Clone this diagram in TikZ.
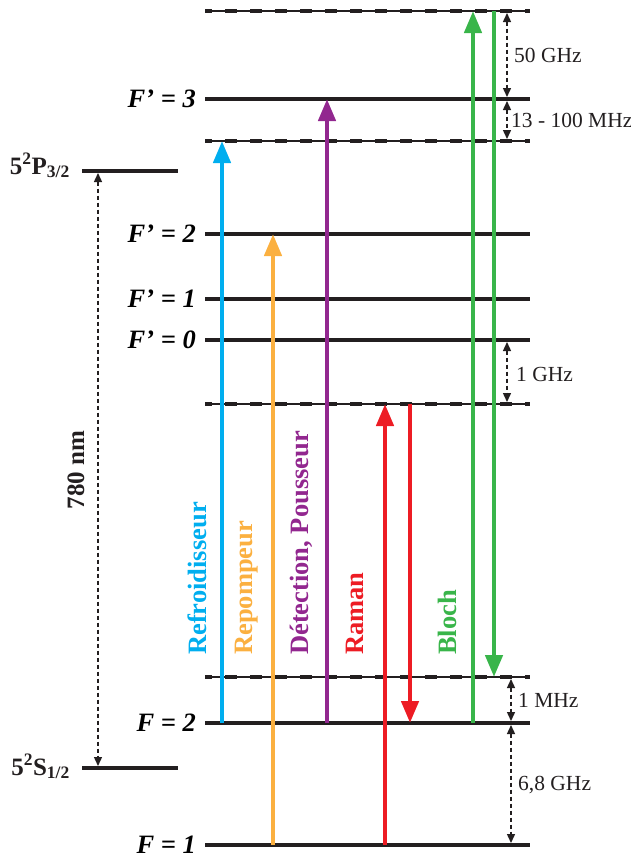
\documentclass[tikz,border=0pt]{standalone}
\usepackage{fontspec}
\setmainfont{Liberation Serif}
\usetikzlibrary{arrows.meta}
\definecolor{cblue}{RGB}{0,174,239}
\definecolor{corange}{RGB}{251,176,64}
\definecolor{cpurple}{RGB}{146,39,143}
\definecolor{cred}{RGB}{237,28,36}
\definecolor{cgreen}{RGB}{57,181,74}
\definecolor{cblack}{RGB}{35,31,32}
\begin{document}
\begin{tikzpicture}[x=1pt,y=-1pt,
  lvl/.style={cblack,line width=3.6pt},
  virtthin/.style={cblack,line width=1.2pt},
  virtdash/.style={cblack,line width=4pt,dash pattern=on 12pt off 13pt,dash phase=5pt},
  trans/.style={line width=4.5pt,-{Triangle[width=17pt,length=22pt]}},
  dim/.style={cblack,line width=1.4pt,dash pattern=on 4pt off 3pt,{Triangle[width=8pt,length=9pt]}-{Triangle[width=8pt,length=9pt]}},
  flab/.style={font=\fontsize{26.5}{26.5}\selectfont\bfseries\itshape,anchor=east,inner sep=0pt},
  dlab/.style={font=\fontsize{21.5}{21.5}\selectfont,anchor=west,inner sep=0pt,cblack},
  tlab/.style={font=\fontsize{26.5}{26.5}\selectfont\bfseries,rotate=90,anchor=west,inner sep=0pt},
  slab/.style={font=\fontsize{25}{25}\selectfont\bfseries,anchor=base east,inner sep=0pt,cblack}]
\useasboundingbox (0,0) rectangle (630,854);

% level endpoints
\foreach \n/\y in {v1/11,e3/99,v2/141,e2/234,e1/299,e0/340,v3/404,v4/677,g2/723,g1/845}{
  \coordinate (\n L) at (205,\y);
  \coordinate (\n R) at (530,\y);
}
\coordinate (PL) at (82,171); \coordinate (PR) at (178,171);
\coordinate (SL) at (82,768); \coordinate (SR) at (178,768);

% solid levels
\foreach \n in {e3,e2,e1,e0,g2,g1}{\draw[lvl] (\n L) -- (\n R);}
\draw[lvl] (PL) -- (PR);
\draw[lvl] (SL) -- (SR);
% virtual levels
\foreach \n in {v1,v2,v3,v4}{
  \draw[virtthin] (\n L) -- (\n R);
  \draw[virtdash] (\n L) -- (\n R);
}

% level labels
\node[flab] (lF3) at (196,99) {F’ = 3};
\node[flab] (lF2) at (196,234) {F’ = 2};
\node[flab] (lF1) at (196,299) {F’ = 1};
\node[flab] (lF0) at (196,340) {F’ = 0};
\node[flab] (lG2) at (196,723) {F = 2};
\node[flab] (lG1) at (196,845) {F = 1};
\node[slab] (lP) at (70,174) {5\textsuperscript{2}P\textsubscript{3/2}};
\node[slab] (lS) at (70,775) {5\textsuperscript{2}S\textsubscript{1/2}};

% transition coordinates
\coordinate (bB) at (222,723); \coordinate (tB) at (222,141);
\coordinate (bO) at (273,845); \coordinate (tO) at (273,234);
\coordinate (bP) at (327,723); \coordinate (tP) at (327,99);
\coordinate (bR1) at (385,845); \coordinate (tR1) at (385,404);
\coordinate (tR2) at (410,404); \coordinate (bR2) at (410,723);
\coordinate (bG1) at (473,723); \coordinate (tG1) at (473,11);
\coordinate (tG2) at (494,11); \coordinate (bG2) at (494,677);

\draw[trans,cblue] (bB) -- (tB);
\draw[trans,corange] (bO) -- (tO);
\draw[trans,cpurple] (bP) -- (tP);
\draw[trans,cred] (bR1) -- (tR1);
\draw[trans,cred] (tR2) -- (bR2);
\draw[trans,cgreen] (bG1) -- (tG1);
\draw[trans,cgreen] (tG2) -- (bG2);

% transition labels
\node[tlab,cblue] (tl1) at (197,655) {Refroidisseur};
\node[tlab,corange] (tl2) at (247,655) {Repompeur};
\node[tlab,cpurple] (tl3) at (301,655) {Détection, Pousseur};
\node[tlab,cred] (tl4) at (355,655) {Raman};
\node[tlab,cgreen] (tl5) at (447,655) {Bloch};

% dimension arrows
\coordinate (d1a) at (507,13); \coordinate (d1b) at (507,97);
\coordinate (d2a) at (507,101); \coordinate (d2b) at (507,139);
\coordinate (d3a) at (507,342); \coordinate (d3b) at (507,402);
\coordinate (d4a) at (511,679); \coordinate (d4b) at (511,721);
\coordinate (d5a) at (511,725); \coordinate (d5b) at (511,843);
\coordinate (d6a) at (98,173); \coordinate (d6b) at (98,766);
\draw[dim] (d1a) -- (d1b);
\draw[dim] (d2a) -- (d2b);
\draw[dim] (d3a) -- (d3b);
\draw[dim] (d4a) -- (d4b);
\draw[dim] (d5a) -- (d5b);
\draw[dim] (d6a) -- (d6b);
\node[dlab] (n1) at (514,55) {50 GHz};
\node[dlab] (n2) at (511,120) {13 - 100 MHz};
\node[dlab] (n3) at (516,374) {1 GHz};
\node[dlab] (n4) at (518,700) {1 MHz};
\node[dlab] (n5) at (518,785) {6,8 GHz};
\node[font=\fontsize{25}{25}\selectfont\bfseries,rotate=90,inner sep=0pt,cblack] (n6) at (76,470) {780 nm};
\end{tikzpicture}
\end{document}
